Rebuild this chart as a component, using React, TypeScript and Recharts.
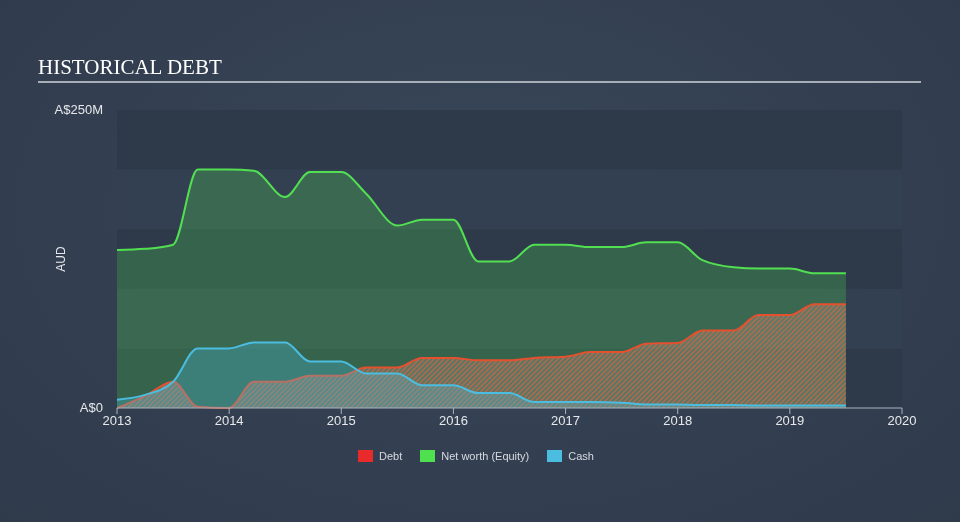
import { AreaChart, Area, XAxis, YAxis, ReferenceArea } from "recharts";

const dates = [
  2013.0, 2013.25, 2013.5, 2013.72, 2014.0, 2014.22, 2014.5, 2014.72, 2015.0, 2015.22, 2015.5,
  2015.72, 2016.0, 2016.22, 2016.5, 2016.72, 2017.0, 2017.22, 2017.5, 2017.72, 2018.0, 2018.22,
  2018.5, 2018.72, 2019.0, 2019.22, 2019.5,
];
const equity = [
  132.5, 133.5, 137, 200, 200, 199, 177, 198, 198, 180, 153, 158, 158, 123, 123, 137, 137, 135,
  135, 139, 139, 124, 118, 117, 117, 113, 113,
];
const debt = [
  0, 10, 22, 1, 0, 22, 22, 27, 27, 34, 34, 42, 42, 40, 40, 42, 43, 47, 47, 54, 54.5, 65, 65, 78,
  78, 87, 87,
];
const cash = [
  7, 11, 22, 50, 50, 55, 55, 39, 39, 29, 29, 19, 19, 12.5, 12.5, 5, 5, 5, 4.5, 3, 3, 2.5, 2.5, 2,
  2, 2, 2,
];
const yearTicks = [2013, 2014, 2015, 2016, 2017, 2018, 2019, 2020];
const valueTicks = [0, 250];
const bands = [
  [0, 50, "#2e3a4a"],
  [50, 100, "#334051"],
  [100, 150, "#2e3a4a"],
  [150, 200, "#334051"],
  [200, 250, "#2e3a4a"],
] as const;
const legendItems = [
  { name: "Debt", color: "#e82a2a" },
  { name: "Net worth (Equity)", color: "#4fe04f" },
  { name: "Cash", color: "#4bbde0" },
];

const data = dates.map((d, i) => ({ date: d, equity: equity[i], debt: debt[i], cash: cash[i] }));

const axisFont = "'Liberation Sans', Arial, sans-serif";

const App = () => {
  return (
    <div
      style={{
        position: "fixed",
        top: 0,
        left: 0,
        width: 960,
        height: 522,
        background: "radial-gradient(ellipse at 50% 40%, #37475a 0%, #333f50 60%, #2f3b4b 100%)",
        overflow: "hidden",
      }}
    >
      <div
        style={{
          position: "absolute",
          left: 38,
          top: 54,
          color: "#ffffff",
          fontFamily: "'Liberation Serif', 'Times New Roman', serif",
          fontSize: 21,
          lineHeight: "26px",
        }}
      >
        HISTORICAL DEBT
      </div>
      <div style={{ position: "absolute", left: 38, top: 81, width: 883, height: 2, background: "#a7aeb7" }} />

      <div style={{ position: "absolute", left: 0, top: 0 }}>
        <AreaChart width={960} height={522} data={data} margin={{ top: 110, right: 58, bottom: 84, left: 0 }}>
          <defs>
            <pattern id="hatch" width="3.5" height="3.5" patternUnits="userSpaceOnUse" patternTransform="rotate(45)">
              <rect width="3.5" height="3.5" fill="#a0a8a8" fillOpacity={0.3} />
              <rect width="1.6" height="3.5" fill="#e0643c" fillOpacity={0.65} />
            </pattern>
          </defs>
          {bands.map(([y1, y2, c]) => (
            <ReferenceArea key={y1} y1={y1} y2={y2} x1={2013} x2={2020} fill={c} fillOpacity={1} stroke="none" />
          ))}
          <XAxis
            dataKey="date"
            type="number"
            domain={[2013, 2020]}
            ticks={yearTicks}
            allowDataOverflow
            stroke="#a9b3be"
            tickLine={{ stroke: "#a9b3be" }}
            tickSize={6}
            tick={{ fill: "#e6e8eb", fontSize: 13, fontFamily: axisFont }}
            height={30}
          />
          <YAxis
            type="number"
            domain={[0, 250]}
            ticks={valueTicks}
            width={117}
            axisLine={false}
            tickLine={false}
            tickMargin={8}
            tickFormatter={(v: number) => (v === 0 ? "A$0" : `A$${v}M`)}
            tick={{ fill: "#e6e8eb", fontSize: 13, fontFamily: axisFont, dy: -1 }}
            label={{ value: "AUD", angle: -90, position: "center", dx: 2, fill: "#e6e8eb", fontSize: 12, fontFamily: axisFont }}
          />
          <Area
            type="monotone"
            dataKey="equity"
            stroke="#52e052"
            strokeWidth={2}
            fill="#4fe04f"
            fillOpacity={0.25}
            isAnimationActive={false}
          />
          <Area
            type="monotone"
            dataKey="debt"
            stroke="#e5502e"
            strokeWidth={2}
            fill="url(#hatch)"
            fillOpacity={1}
            isAnimationActive={false}
          />
          <Area
            type="monotone"
            dataKey="cash"
            stroke="#4bbde0"
            strokeWidth={2}
            fill="#4bbde0"
            fillOpacity={0.3}
            isAnimationActive={false}
          />
        </AreaChart>
      </div>

      <div
        style={{
          position: "absolute",
          left: 358,
          top: 450,
          display: "flex",
          alignItems: "center",
          fontFamily: axisFont,
          fontSize: 11,
          color: "#d6dadf",
        }}
      >
        {legendItems.map((it) => (
          <div key={it.name} style={{ display: "flex", alignItems: "center", marginRight: 18 }}>
            <div style={{ width: 15, height: 12, background: it.color, marginRight: 6 }} />
            <span>{it.name}</span>
          </div>
        ))}
      </div>
    </div>
  );
};

export default App;
